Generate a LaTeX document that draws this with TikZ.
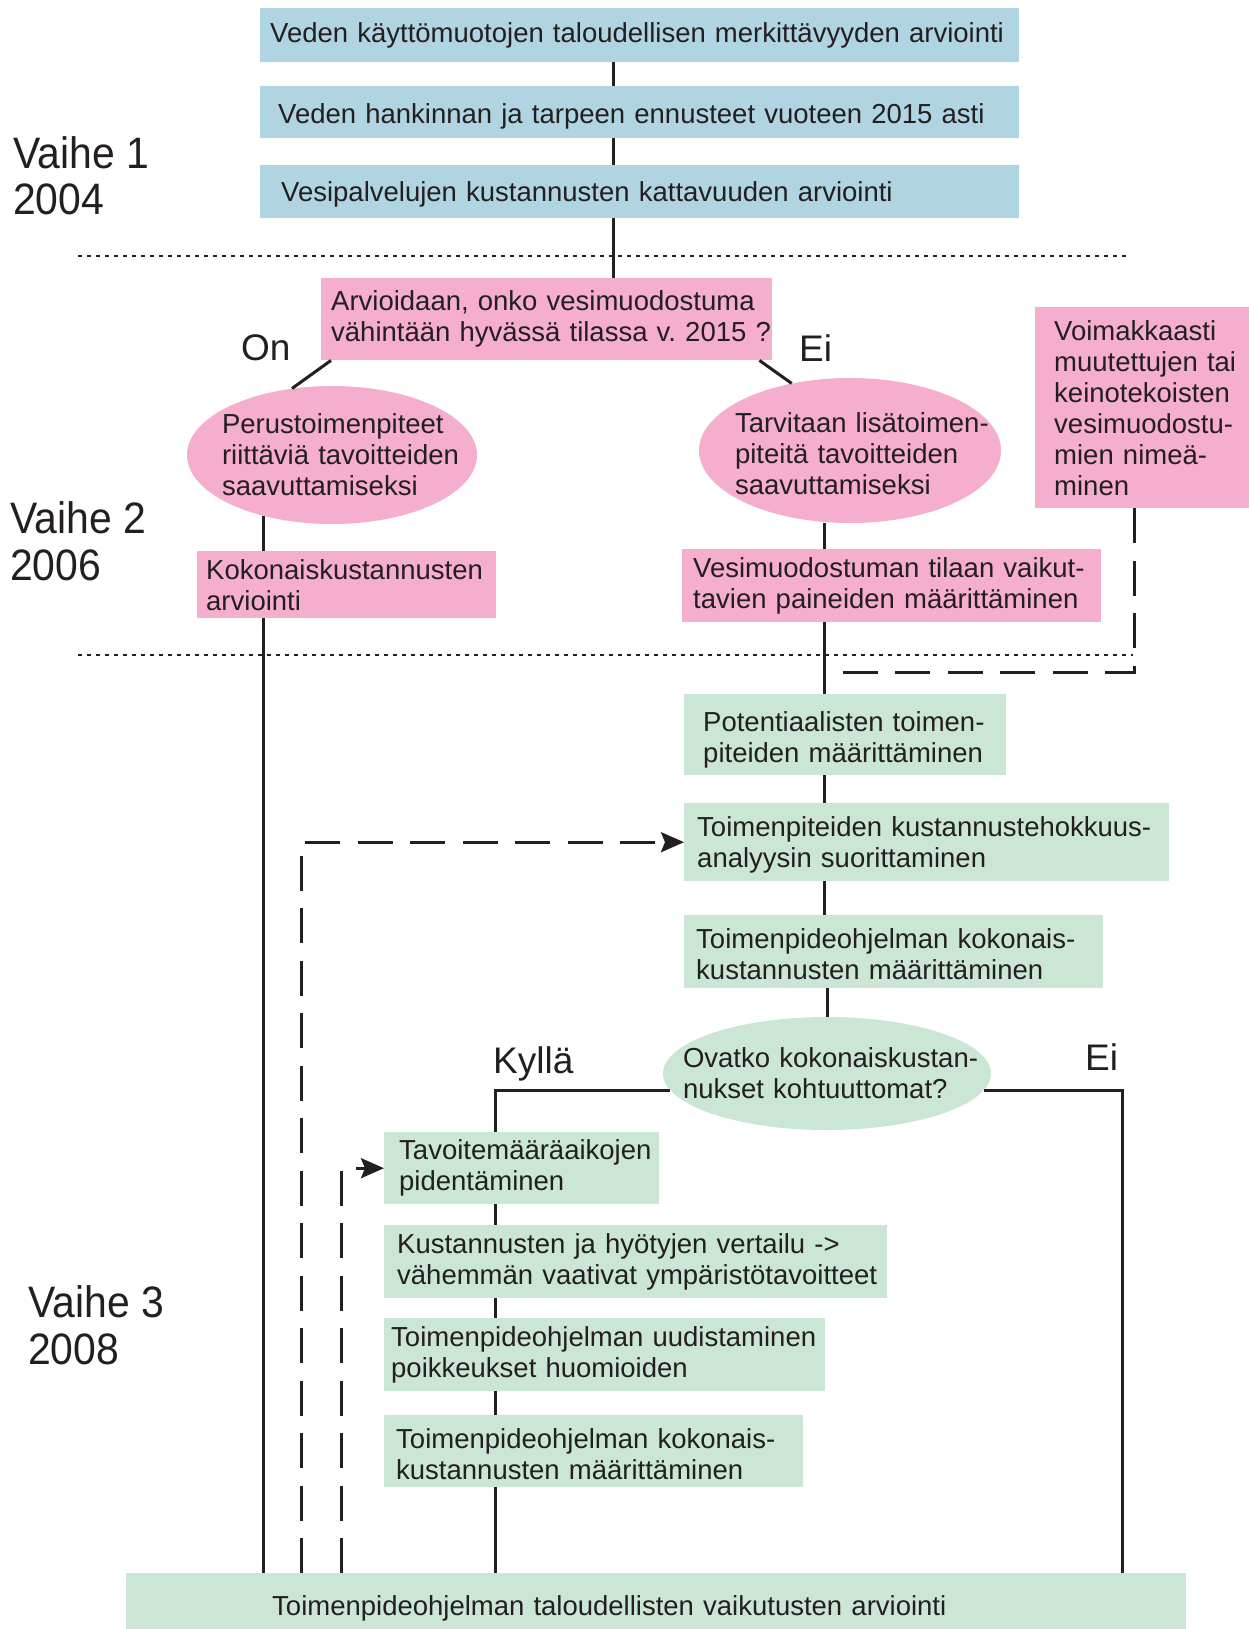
\documentclass[tikz,border=0pt]{standalone}
\usepackage{fontspec}
\setmainfont{Liberation Sans}
\newfontfamily\phasefont[FakeStretch=0.93]{Liberation Sans}
\usetikzlibrary{shapes.geometric,arrows.meta}
\frenchspacing

\definecolor{ink}{HTML}{231F20}
\definecolor{vblue}{HTML}{B0D4E2}
\definecolor{vpink}{HTML}{F5AECD}
\definecolor{vgreen}{HTML}{CBE6D5}

\newcommand{\flowfont}{\fontsize{27.5}{31}\selectfont}
\newcommand{\tagfont}{\fontsize{37}{40}\selectfont}
\newcommand{\phasesize}{\phasefont\fontsize{44}{47}\selectfont}

\tikzset{
  stepbox/.style={anchor=north west, inner sep=0pt, align=left, font=\flowfont, text=ink},
  lead/.style={execute at begin node={\leftskip=#1pt}},
  sink/.style={text height=#1pt},
  oval/.style={ellipse, inner sep=-60pt, align=left, font=\flowfont, text=ink},
  tag/.style={anchor=base west, inner sep=0pt, font=\tagfont, text=ink},
  phase/.style={anchor=base west, inner sep=0pt, align=left, font=\phasesize, text=ink},
  flow/.style={line width=3pt, draw=ink},
  dashflow/.style={flow, dash pattern=on 35pt off 17.5pt},
  phaseline/.style={line width=2pt, draw=ink, dash pattern=on 3.5pt off 5.5pt},
  arrowto/.style={-{Stealth[length=23pt,width=20pt,inset=4pt]}}
}

\begin{document}
\begin{tikzpicture}[x=1pt,y=1pt,yscale=-1]
\useasboundingbox (0,0) rectangle (1249,1629);

%Phase separators
\draw [phaseline] (78,256) -- (1130,256);
\draw [phaseline] (78,655) -- (1133,655);

% Text Node
\node (p1) [phase] at (13,215) {Vaihe 1\\2004};
\node (p2) [phase] at (10,580) {Vaihe 2\\2006};
\node (p3) [phase] at (28,1364) {Vaihe 3\\2008};

%Vaihe 1
\node (b1) [stepbox, fill=vblue, text width=759pt, minimum height=54pt, lead=10] at (260,8) {Veden käyttömuotojen taloudellisen merkittävyyden arviointi};
\node (b2) [stepbox, fill=vblue, text width=759pt, minimum height=52pt, lead=18, sink=28] at (260,86) {Veden hankinnan ja tarpeen ennusteet vuoteen 2015 asti};
\node (b3) [stepbox, fill=vblue, text width=759pt, minimum height=53pt, lead=21, sink=26] at (260,165) {Vesipalvelujen kustannusten kattavuuden arviointi};

%Vaihe 2
\node (q) [stepbox, fill=vpink, text width=451pt, minimum height=82pt, lead=10] at (321,278) {Arvioidaan, onko vesimuodostuma\\vähintään hyvässä tilassa v. 2015 ?};
\node (pe) [oval, fill=vpink, minimum width=290pt, minimum height=138pt, text width=270pt, lead=25] at (332,455) {Perustoimenpiteet\\riittäviä tavoitteiden\\saavuttamiseksi};
\node (te) [oval, fill=vpink, minimum width=302pt, minimum height=145pt, text width=290pt, lead=30, sink=26] at (850,450.5) {Tarvitaan lisätoimen-\\piteitä tavoitteiden\\saavuttamiseksi};
\node (vo) [stepbox, fill=vpink, text width=214pt, minimum height=201pt, lead=19] at (1035,307) {Voimakkaasti\\muutettujen tai\\keinotekoisten\\vesimuodostu-\\mien nimeä-\\minen};
\node (ko) [stepbox, fill=vpink, text width=299pt, minimum height=67pt, lead=9] at (197,551) {Kokonaiskustannusten\\arviointi};
\node (vm) [stepbox, fill=vpink, text width=419pt, minimum height=73pt, lead=11] at (682,549) {Vesimuodostuman tilaan vaikut-\\tavien paineiden määrittäminen};
\node (on) [tag] at (241,360) {On};
\node (eq) [tag] at (799,361) {Ei};

%Vaihe 3
\node (pt) [stepbox, fill=vgreen, text width=322pt, minimum height=81pt, lead=19, sink=31] at (684,694) {Potentiaalisten toimen-\\piteiden määrittäminen};
\node (kh) [stepbox, fill=vgreen, text width=485pt, minimum height=78pt, lead=13, sink=26] at (684,803) {Toimenpiteiden kustannustehokkuus-\\analyysin suorittaminen};
\node (tk) [stepbox, fill=vgreen, text width=419pt, minimum height=73pt, lead=12, sink=24] at (684,915) {Toimenpideohjelman kokonais-\\kustannusten määrittäminen};
\node (ov) [oval, fill=vgreen, minimum width=328pt, minimum height=113pt, text width=320pt, lead=16] at (827,1073.5) {Ovatko kokonaiskustan-\\nukset kohtuuttomat?};
\node (ta) [stepbox, fill=vgreen, text width=275pt, minimum height=72pt, lead=15] at (384,1132) {Tavoitemääräaikojen\\pidentäminen};
\node (kv) [stepbox, fill=vgreen, text width=503pt, minimum height=73pt, lead=13] at (384,1225) {Kustannusten ja hyötyjen vertailu ->\\vähemmän vaativat ympäristötavoitteet};
\node (tu) [stepbox, fill=vgreen, text width=441pt, minimum height=73pt, lead=7] at (384,1318) {Toimenpideohjelman uudistaminen\\poikkeukset huomioiden};
\node (tk2) [stepbox, fill=vgreen, text width=419pt, minimum height=72pt, lead=12, sink=25] at (384,1415) {Toimenpideohjelman kokonais-\\kustannusten määrittäminen};
\node (bt) [stepbox, fill=vgreen, text width=1060pt, minimum height=56pt, lead=146, sink=34] at (126,1573) {Toimenpideohjelman taloudellisten vaikutusten arviointi};
\node (yes) [tag] at (493,1073) {Kyllä};
\node (no) [tag] at (1085,1070) {Ei};

%Line positions
\coordinate (sp) at (613,0);
\coordinate (lx) at (263,0);
\coordinate (rx) at (824,0);
\coordinate (ly) at (495,0);
\coordinate (ry) at (1122,0);
\coordinate (ox) at (301,0);
\coordinate (ix) at (341,0);
\coordinate (hx) at (1134,0);
\coordinate (dend) at (843,672);

%Straight Lines
\draw [flow] (sp |- b1.south) -- (sp |- b2.north);
\draw [flow] (sp |- b2.south) -- (sp |- b3.north);
\draw [flow] (sp |- b3.south) -- (sp |- q.north);
\draw [flow] ([xshift=10pt]q.south west) -- (pe.121);
\draw [flow] ([xshift=-13pt]q.south east) -- (te.131);
\draw [flow] (lx |- pe.222) -- (lx |- ko.north);
\draw [flow] (lx |- ko.south) -- (lx |- bt.north);
\draw [flow] (rx |- te.south) -- (rx |- vm.north);
\draw [flow] (rx |- vm.south) -- (rx |- pt.north);
\draw [flow] (rx |- pt.south) -- (rx |- kh.north);
\draw [flow] (rx |- kh.south) -- (rx |- tk.north);
\draw [flow] (ov.north |- tk.south) -- (ov.north);
\draw [flow] (ov.186) -| (ly |- ta.north);
\draw [flow] (ov.-6) -| (ry |- bt.north);
\draw [flow] (ly |- ta.south) -- (ly |- kv.north);
\draw [flow] (ly |- kv.south) -- (ly |- tu.north);
\draw [flow] (ly |- tu.south) -- (ly |- tk2.north);
\draw [flow] (ly |- tk2.south) -- (ly |- bt.north);

%Dashed Lines
\draw [dashflow] (hx |- vo.south) |- (dend);
\draw [dashflow, arrowto] (ox |- bt.north) |- (kh.west);
\draw [dashflow, arrowto] (ix |- bt.north) |- (ta.west);

\end{tikzpicture}
\end{document}
